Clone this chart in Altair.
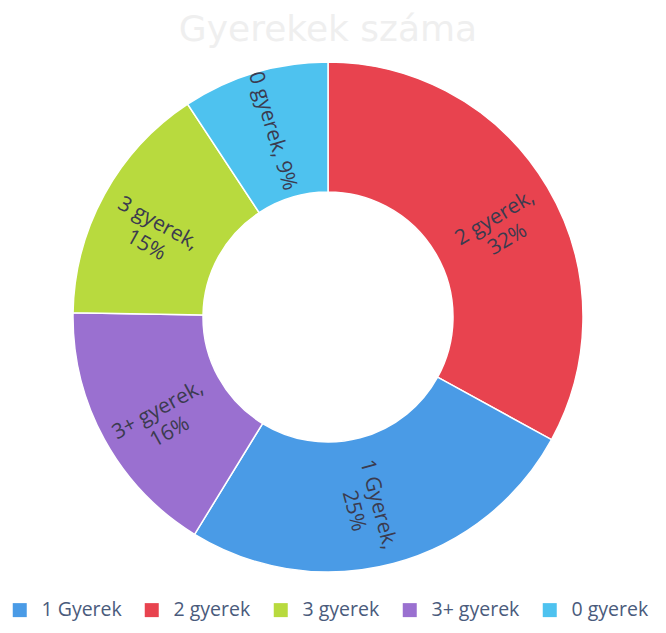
import altair as alt
import pandas as pd

# Slice order (clockwise from 12 o'clock)
categories = ["2 gyerek", "1 Gyerek", "3+ gyerek", "3 gyerek", "0 gyerek"]
values = [32, 25, 16, 15, 9]
labels = ["2 gyerek,\n32%", "1 Gyerek,\n25%", "3+ gyerek,\n16%", "3 gyerek,\n15%", "0 gyerek, 9%"]
order = [1, 2, 3, 4, 5]

legend_order = ["1 Gyerek", "2 gyerek", "3 gyerek", "3+ gyerek", "0 gyerek"]
legend_colors = ["#4A9BE6", "#E8434F", "#B8DA3E", "#9A70D0", "#4EC2EF"]

df = pd.DataFrame({"cat": categories, "val": values, "label": labels, "idx": order})

color = alt.Color(
    "cat:N",
    scale=alt.Scale(domain=legend_order, range=legend_colors),
    legend=alt.Legend(
        title=None,
        orient="none",
        direction="horizontal",
        columns=5,
        legendX=2,
        legendY=542,
        symbolType="square",
        symbolSize=196,
        symbolStrokeWidth=0,
        symbolOpacity=1,
        labelFont="Open Sans",
        labelFontSize=19.5,
        labelColor="#4A5B7C",
        labelOffset=12,
        columnPadding=20,
        labelLimit=200,
    ),
)

base = alt.Chart(df).encode(
    theta=alt.Theta("val:Q", stack=True),
    order=alt.Order("idx:Q"),
)

arcs = base.mark_arc(outerRadius=255, innerRadius=125, stroke="white", strokeWidth=1.5).encode(color=color)

text = (
    base.transform_joinaggregate(total="sum(val)")
    .transform_window(cum="sum(val)", sort=[alt.SortField("idx")], frame=[None, 0])
    .transform_calculate(mid="(datum.cum - datum.val/2) / datum.total * 360")
    .transform_calculate(
        rot="datum.mid > 180 ? (datum.mid + 90) % 360 : (datum.mid + 270) % 360"
    )
    .mark_text(
        radius=194,
        font="Open Sans",
        fontSize=21,
        color="#3B3B4F",
        lineBreak="\n",
        lineHeight=25,
        align="center",
        baseline="middle",
    )
    .encode(text="label:N", angle=alt.Angle("rot:Q", scale=None))
)

chart = (
    alt.layer(arcs, text)
    .properties(
        width=640,
        height=518,
        autosize=alt.AutoSizeParams(type="none"),
        padding={"left": 0, "top": 50, "right": 10, "bottom": 49},
        title=alt.TitleParams(
            "Gyerekek száma",
            font="DejaVu Sans",
            fontSize=36,
            fontWeight="normal",
            color="#EFEFEF",
            anchor="middle",
            frame="group",
            baseline="alphabetic",
            offset=-19,
        ),
    )
    .configure_view(stroke=None)
)

chart.save("out.html", embed_options={"renderer": "svg", "actions": False})
